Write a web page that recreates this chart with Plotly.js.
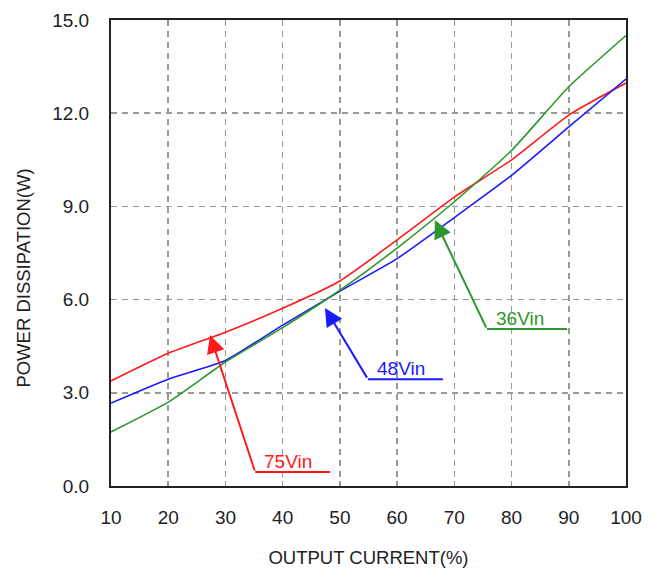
<!DOCTYPE html>
<html>
<head>
<meta charset="utf-8">
<script src="https://cdn.plot.ly/plotly-3.0.1.min.js"></script>
<style>html,body{margin:0;padding:0;background:#fff;}#chart{width:656px;height:574px;}</style>
</head>
<body>
<div id="chart"></div>
<script>
// Data
const outputCurrent = [10, 20, 30, 40, 50, 60, 70, 80, 90, 100];
const vin75 = [3.38, 4.27, 4.95, 5.72, 6.60, 7.92, 9.30, 10.50, 11.94, 12.97];
const vin48 = [2.67, 3.44, 4.04, 5.18, 6.27, 7.32, 8.64, 10.00, 11.56, 13.10];
const vin36 = [1.74, 2.70, 3.99, 5.10, 6.30, 7.66, 9.15, 10.80, 12.85, 14.50];
const seriesNames = ['75Vin', '48Vin', '36Vin'];
const seriesColors = ['#ff1a1a', '#1a1aff', '#2e962e'];

// Callout labels: arrow tip, elbow, end of underline
const calloutTipX = [27.3, 47.4, 66.6];
const calloutTipY = [4.86, 5.73, 8.56];
const calloutElbowX = [35.2, 54.9, 75.7];
const calloutElbowY = [0.45, 3.44, 5.05];
const calloutEndX = [48.3, 68.0, 89.7];

const yTickVals = [0, 3, 6, 9, 12, 15];
const xTickVals = [10, 20, 30, 40, 50, 60, 70, 80, 90, 100];
const xTitle = 'OUTPUT CURRENT(%)';
const yTitle = 'POWER DISSIPATION(W)';

const seriesY = [vin75, vin48, vin36];
const traces = seriesY.map((ys, i) => ({
  x: outputCurrent, y: ys, type: 'scatter', mode: 'lines', name: seriesNames[i],
  line: {color: seriesColors[i], width: 1.6, shape: 'spline', smoothing: 0.5},
  hoverinfo: 'skip'
}));

const annotations = [];
const shapes = [];
seriesNames.forEach((nm, i) => {
  annotations.push({
    x: calloutTipX[i], y: calloutTipY[i], xref: 'x', yref: 'y',
    ax: calloutElbowX[i], ay: calloutElbowY[i], axref: 'x', ayref: 'y',
    text: '', showarrow: true, arrowhead: 2, arrowsize: 1.8, arrowwidth: 2,
    arrowcolor: seriesColors[i]
  });
  shapes.push({
    type: 'line', xref: 'x', yref: 'y',
    x0: calloutElbowX[i], y0: calloutElbowY[i], x1: calloutEndX[i], y1: calloutElbowY[i],
    line: {color: seriesColors[i], width: 2}
  });
  annotations.push({
    x: calloutElbowX[i] + 1.2, y: calloutElbowY[i], xref: 'x', yref: 'y',
    xanchor: 'left', yanchor: 'bottom', yshift: -2, showarrow: false, text: nm,
    font: {family: 'Liberation Sans, Arial, sans-serif', size: 19, color: seriesColors[i]}
  });
});
// y-axis title (placed slightly below the plot centre, as in the reference)
annotations.push({
  xref: 'paper', yref: 'paper', x: -0.170, y: 0.446, xanchor: 'center', yanchor: 'middle',
  textangle: -90, showarrow: false, text: yTitle,
  font: {family: 'Liberation Sans, Arial, sans-serif', size: 18.5, color: '#222'}
});

const layout = {
  width: 656, height: 574,
  margin: {l: 111, r: 30, t: 20, b: 88},
  paper_bgcolor: '#fff', plot_bgcolor: '#fff',
  showlegend: false,
  font: {family: 'Liberation Sans, Arial, sans-serif', size: 19, color: '#222'},
  xaxis: {
    range: [10, 100], tickvals: xTickVals, ticktext: xTickVals.map(String),
    showgrid: true, gridcolor: '#999', gridwidth: 1.5, griddash: '6px,5px',
    showline: true, linecolor: '#222', linewidth: 2, mirror: true,
    ticks: 'inside', ticklen: 5, tickcolor: '#999', tickwidth: 1.5,
    zeroline: false, ticklabelstandoff: 13,
    title: {text: xTitle, font: {size: 18.5, color: '#222'}, standoff: 24}
  },
  yaxis: {
    range: [0, 15], tickvals: yTickVals, ticktext: yTickVals.map(v => v.toFixed(1)),
    showgrid: true, gridcolor: '#999', gridwidth: 1.5, griddash: '6px,5px',
    showline: true, linecolor: '#222', linewidth: 2, mirror: true,
    ticks: 'inside', ticklen: 5, tickcolor: '#999', tickwidth: 1.5,
    zeroline: false, ticklabelstandoff: 16,
    title: {text: ''}
  },
  annotations: annotations,
  shapes: shapes
};

Plotly.newPlot('chart', traces, layout, {displayModeBar: false, staticPlot: true});
</script>
</body>
</html>
